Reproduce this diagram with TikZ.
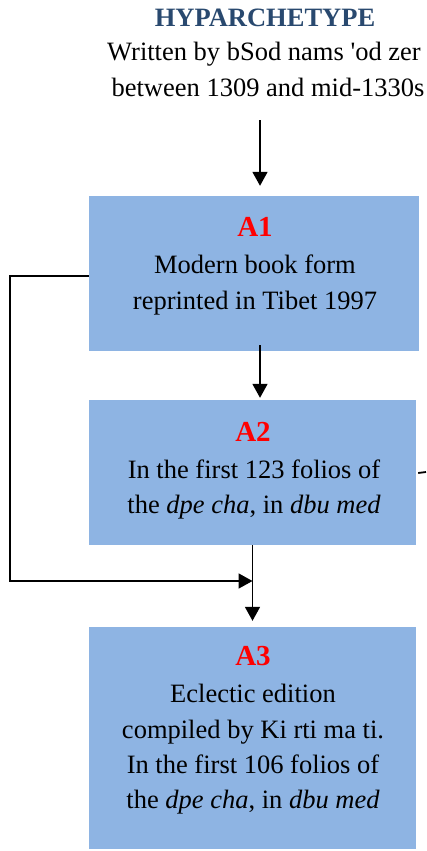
\documentclass[tikz,border=0pt]{standalone}
\usepackage{fontspec}
\setmainfont{Liberation Serif}
\newfontfamily\rawserif{Liberation Serif}
\usetikzlibrary{arrows.meta}
\definecolor{boxblue}{HTML}{8EB4E3}
\definecolor{titleblue}{HTML}{29496F}
\definecolor{labred}{HTML}{FF0000}
\begin{document}
\begin{tikzpicture}[x=1pt,y=-1pt,
  box/.style={fill=boxblue,draw=none,inner sep=0pt,anchor=center},
  txt/.style={inner sep=0pt,anchor=base,font=\fontsize{26.5}{34}\selectfont},
  lab/.style={inner sep=0pt,anchor=base,text=labred,font=\fontsize{29}{34}\selectfont\bfseries},
  ttl/.style={inner sep=0pt,anchor=base,text=titleblue,font=\fontsize{26.5}{34}\selectfont\bfseries},
  conn/.style={line width=1.8pt,draw=black},
  arr/.style={conn,-{Triangle[length=14pt,width=15pt]}}]
\useasboundingbox (0,0) rectangle (426,851);
% boxes
\node[box,minimum width=330pt,minimum height=155pt] (A1) at (254,273.5) {};
\node[box,minimum width=327pt,minimum height=145pt] (A2) at (252.5,472.5) {};
\node[box,minimum width=327pt,minimum height=222pt] (A3) at (252.5,738) {};
% title
\node[ttl] (t0) at (265,27) {HYPARCHETYPE};
\node[txt] (t1) at (264,61) {Written by bSod nams {\rawserif'}od zer};
\node[txt] (t2) at (268,96) {between 1309 and mid-1330s};
% A1 texts
\node[lab] (l1) at (255,236) {A1};
\node[txt] (a11) at (255,273) {Modern book form};
\node[txt] (a12) at (255,309) {reprinted in Tibet 1997};
% A2 texts
\node[lab] (l2) at (253,441) {A2};
\node[txt] (a21) at (254,478) {In the first 123 folios of};
\node[txt] (a22) at (254,513) {the \textit{dpe cha}, in \textit{dbu med}};
% A3 texts
\node[lab] (l3) at (253,665) {A3};
\node[txt] (a31) at (253,702.5) {Eclectic edition};
\node[txt] (a32) at (253,738) {compiled by Ki rti ma ti.};
\node[txt] (a33) at (253,773) {In the first 106 folios of};
\node[txt] (a34) at (253,808) {the \textit{dpe cha}, in \textit{dbu med}};
% coordinates
\coordinate (c0) at (260,120);
\coordinate (lft) at (10,581);
\coordinate (j) at (252.5,581);
\coordinate (rgt) at (426,472);
% connectors
\draw[arr] (c0) -- ([xshift=6pt,yshift=10pt]A1.north);
\draw[arr] ([xshift=6pt,yshift=6pt]A1.south) -- ([xshift=7.5pt,yshift=2pt]A2.north);
\draw[arr] ([yshift=-2.5pt]A1.west) -| (lft) -- (j);
\draw[arr] (A2.south) -- ([yshift=6pt]A3.north);
\draw[conn] ([xshift=2pt,yshift=-0.5pt]A2.east) -- (rgt);
\end{tikzpicture}
\end{document}
